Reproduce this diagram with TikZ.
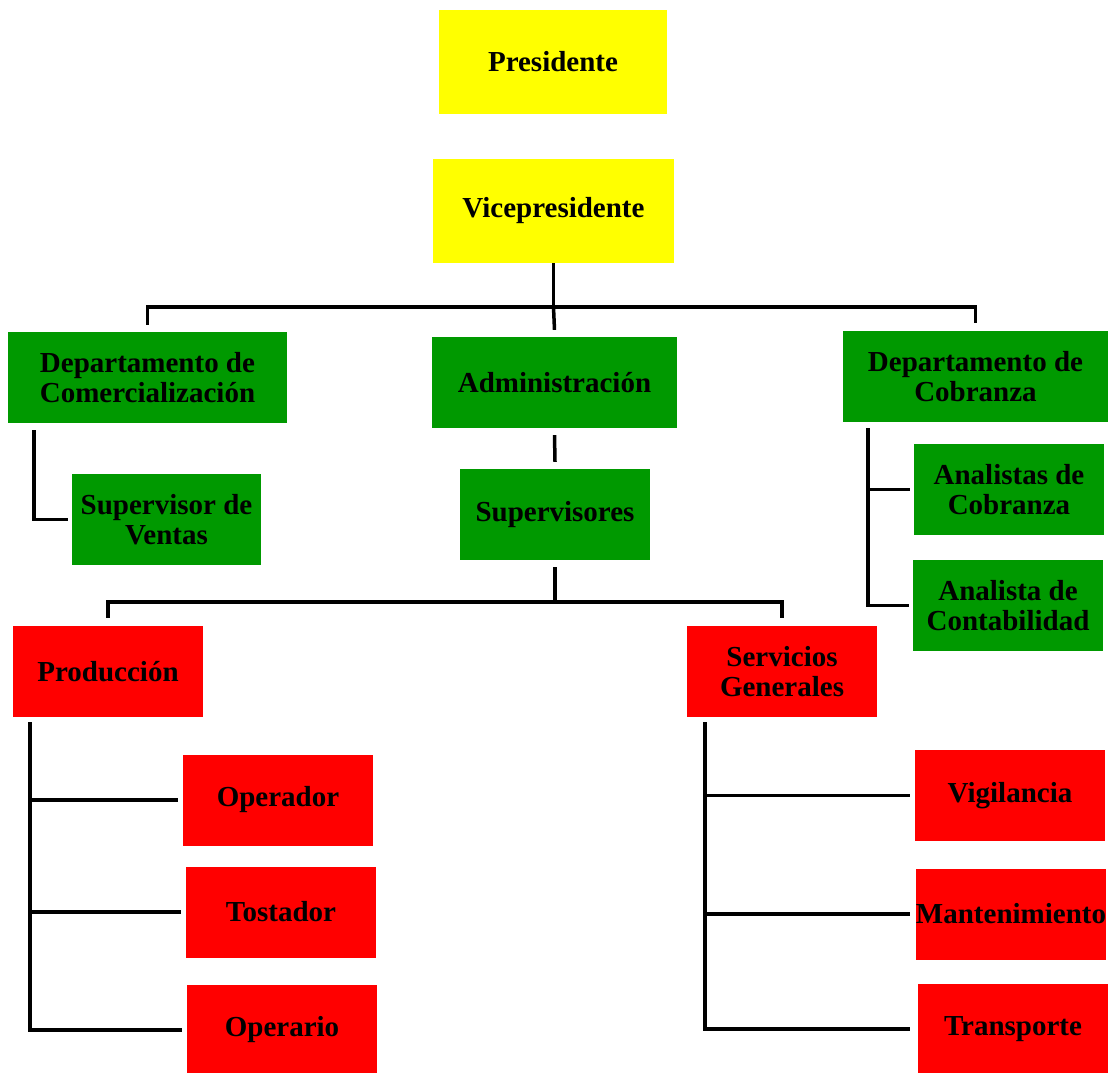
\documentclass[tikz,border=0pt]{standalone}
\usepackage{fontspec}
\setmainfont{Liberation Serif}
\definecolor{amarillo}{RGB}{255,255,0}
\definecolor{verde}{RGB}{0,153,0}
\definecolor{rojo}{RGB}{255,0,0}
\begin{document}
\begin{tikzpicture}[x=1pt, y=-1pt,
            caja/.style={inner sep=0pt, align=center, font=\fontsize{29}{30}\selectfont\bfseries},
            jefe/.style={caja, fill=amarillo},
            depto/.style={caja, fill=verde},
            area/.style={caja, fill=rojo, minimum width=190pt, minimum height=91pt},
            conn/.style={line width=3.5pt}]
            \useasboundingbox (0,0) rectangle (1111,1072);
            \node[jefe, minimum width=228pt, minimum height=104pt](P) at (553,62) {Presidente};
            \node[jefe, minimum width=241pt, minimum height=104pt](V) at (553.5,211) {Vicepresidente};
            \node[depto, minimum width=279pt, minimum height=91pt](DC) at (147.5,377.5) {Departamento de\\Comercialización};
            \node[depto, minimum width=245pt, minimum height=91pt](A) at (554.5,382.5) {Administración};
            \node[depto, minimum width=265pt, minimum height=91pt](DB) at (975.5,376.5) {Departamento de\\Cobranza};
            \node[depto, minimum width=189pt, minimum height=91pt](SV) at (166.5,519.5) {Supervisor de\\Ventas};
            \node[depto, minimum width=190pt, minimum height=91pt](S) at (555,514.5) {Supervisores};
            \node[depto, minimum width=190pt, minimum height=91pt](AB) at (1009,489.5) {Analistas de\\Cobranza};
            \node[depto, minimum width=190pt, minimum height=91pt](AC) at (1008,605.5) {Analista de\\Contabilidad};
            \node[area](PR) at (108,671.5) {Producción};
            \node[area](SG) at (782,671.5) {Servicios\\Generales};
            \node[area](OP) at (278,800) {Operador};
            \node[area](T) at (281,912) {Tostador};
            \node[area](OO) at (282,1030) {Operario};
            \node[area](VG) at (1010,795.5) {Vigilancia};
            \node[area](M) at (1011,914) {Mantenimiento};
            \node[area](TR) at (1013,1029) {Transporte};
            \draw[conn](V.south) -- ++(0,44) coordinate (vb);
            \draw[conn]([yshift=7pt]DC.north) |- (vb) -| ([yshift=8pt]DB.north);
            \draw[conn](vb) -- ([yshift=7pt]A.north);
            \draw[conn]([xshift=26pt,yshift=-7pt]DC.south west) |- ([xshift=-4pt]SV.west);
            \draw[conn]([yshift=-7pt]A.south) -- ([yshift=7pt]S.north);
            \draw[conn]([yshift=-7pt]S.south) -- ++(0,35) coordinate (sb);
            \draw[conn]([yshift=8pt]PR.north) |- (sb) -| ([yshift=8pt]SG.north);
            \draw[conn]([xshift=25pt,yshift=-6pt]DB.south west) coordinate (bt) |- ([xshift=-4pt]AC.west);
            \draw[conn](AB.west -| bt) -- ([xshift=-4pt]AB.west);
            \draw[conn]([xshift=17pt,yshift=-5pt]PR.south west) coordinate (pt) |- ([xshift=-5pt]OO.west);
            \draw[conn](OP.west -| pt) -- ([xshift=-5pt]OP.west);
            \draw[conn](T.west -| pt) -- ([xshift=-5pt]T.west);
            \draw[conn]([xshift=18pt,yshift=-5pt]SG.south west) coordinate (st) |- ([xshift=-8pt]TR.west);
            \draw[conn](VG.west -| st) -- ([xshift=-5pt]VG.west);
            \draw[conn](M.west -| st) -- ([xshift=-6pt]M.west);
            \end{tikzpicture}
\end{document}
